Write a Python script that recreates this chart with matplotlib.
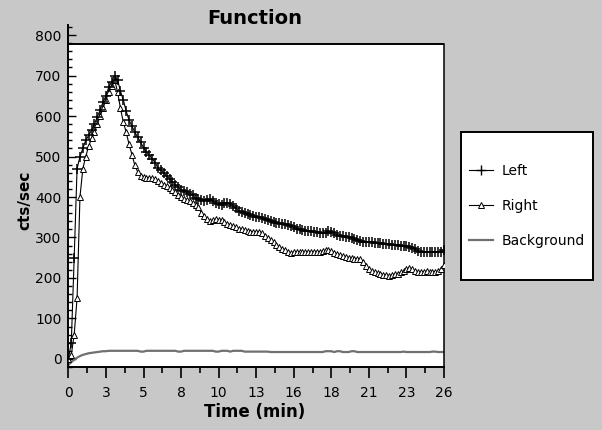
import numpy as np
import matplotlib
matplotlib.use("Agg")
import matplotlib.pyplot as plt
from matplotlib.patches import Rectangle
from matplotlib.ticker import FixedLocator, MultipleLocator

# DATA (sampled every 0.2 min, 0 .. 26 min)
time_min = np.round(np.arange(0, 26.01, 0.2), 1)

left_cps = [
    0, 40, 250, 470, 500, 520, 540, 552, 565, 580,
    598, 615, 635, 650, 672, 685, 700, 690, 662, 640,
    612, 590, 575, 560, 548, 535, 522, 512, 503, 495,
    485, 472, 466, 460, 452, 445, 438, 430, 424, 418,
    414, 412, 408, 404, 398, 394, 392, 390, 393, 396,
    390, 386, 383, 380, 385, 386, 382, 378, 372, 366,
    362, 360, 357, 355, 352, 350, 350, 348, 345, 342,
    340, 338, 337, 335, 334, 333, 331, 328, 325, 322,
    320, 318, 317, 316, 315, 314, 313, 312, 311, 312,
    315, 313, 310, 306, 304, 303, 301, 300, 298, 296,
    294, 291, 290, 289, 289, 288, 287, 287, 286, 285,
    284, 283, 282, 281, 281, 280, 280, 278, 277, 275,
    271, 267, 264, 263, 263, 264, 264, 263, 264, 265,
    268,
]

right_cps = [
    0, 10, 60, 150, 400, 470, 500, 525, 545, 560,
    580, 600, 620, 640, 660, 675, 690, 660, 620, 585,
    560, 530, 505, 478, 462, 452, 450, 448, 447, 446,
    444, 440, 435, 430, 426, 423, 418, 412, 405, 400,
    396, 393, 390, 385, 380, 376, 360, 352, 345, 340,
    342, 345, 344, 342, 338, 333, 330, 328, 326, 322,
    320, 318, 316, 314, 313, 314, 314, 310, 304, 298,
    293, 288, 282, 276, 272, 268, 263, 262, 263, 264,
    264, 263, 264, 265, 264, 264, 263, 265, 266, 268,
    269, 266, 262, 258, 256, 254, 251, 250, 249, 248,
    247, 246, 240, 230, 222, 218, 215, 212, 210, 208,
    207, 206, 207, 209, 211, 214, 216, 222, 225, 222,
    218, 215, 214, 215, 216, 215, 214, 215, 216, 222,
    232,
]

background_cps = [
    -15, -8, -2, 3, 7, 10, 12, 14, 15, 16,
    17, 18, 19, 19, 20, 20, 20, 20, 20, 20,
    20, 20, 20, 20, 20, 18, 18, 20, 20, 20,
    20, 20, 20, 20, 20, 20, 20, 20, 18, 18,
    20, 20, 20, 20, 20, 20, 20, 20, 20, 20,
    20, 18, 18, 20, 20, 20, 18, 20, 20, 20,
    20, 18, 18, 18, 18, 18, 18, 18, 18, 18,
    17, 17, 17, 17, 17, 17, 17, 17, 17, 17,
    17, 17, 17, 17, 17, 17, 17, 17, 17, 19,
    19, 19, 17, 19, 19, 17, 17, 17, 19, 19,
    17, 17, 17, 17, 17, 17, 17, 17, 17, 17,
    17, 17, 17, 17, 17, 17, 18, 17, 17, 17,
    17, 17, 17, 17, 17, 17, 18, 18, 17, 17,
    17,
]

x_ticks = [0, 2.6, 5.2, 7.8, 10.4, 13, 15.6, 18.2, 20.8, 23.4, 26]
x_labels = ["0", "3", "5", "8", "10", "13", "16", "18", "21", "23", "26"]

GRAY = "#c8c8c8"
BG_LINE = "#707070"

fig = plt.figure(figsize=(6.02, 4.30), dpi=100, facecolor=GRAY)
ax = fig.add_axes([68.4 / 602, 1 - 367 / 430, 375.6 / 602, 342 / 430])
ax.set_facecolor(GRAY)

ax.set_xlim(0, 26)
ax.set_ylim(-20, 825)

# white plotting region with its top border line
ax.axhspan(-20, 778, color="white", zorder=0)
ax.axhline(778, color="black", lw=1.4, zorder=1)

ax.plot(time_min, background_cps, color=BG_LINE, lw=1.6, zorder=2)
ax.plot(time_min, right_cps, color="black", lw=0.8, marker="^",
        markersize=4.5, markerfacecolor="white", markeredgecolor="black",
        markeredgewidth=0.7, zorder=3)
ax.plot(time_min, left_cps, color="black", lw=0.8, marker="+",
        markersize=6.5, markeredgewidth=1.1, zorder=4)

# spines
ax.spines["top"].set_visible(False)
ax.spines["right"].set_bounds(-20, 778)
for s in ("left", "bottom"):
    ax.spines[s].set_linewidth(1.4)
ax.spines["right"].set_linewidth(1.1)

# ticks
ax.xaxis.set_major_locator(FixedLocator(x_ticks))
ax.set_xticklabels(x_labels)
ax.xaxis.set_minor_locator(FixedLocator([1.3 + 2.6 * i for i in range(10)]))
ax.yaxis.set_major_locator(MultipleLocator(100))
ax.yaxis.set_minor_locator(MultipleLocator(20))
ax.tick_params(axis="x", which="major", direction="out", length=8, width=1.2,
               pad=6, labelsize=10)
ax.tick_params(axis="x", which="minor", direction="out", length=4, width=1.2)
ax.tick_params(axis="y", which="major", direction="in", length=6, width=1.0,
               pad=5, labelsize=10)
ax.tick_params(axis="y", which="minor", direction="in", length=3, width=1.0)

# texts
fig.text(255 / 602, 1 - 18 / 430, "Function", ha="center", va="center",
         fontsize=14, fontweight="bold")
fig.text(25 / 602, 1 - 200 / 430, "cts/sec", ha="center", va="center",
         rotation=90, fontsize=11, fontweight="bold")
fig.text(255 / 602, 1 - 412 / 430, "Time (min)", ha="center", va="center",
         fontsize=12, fontweight="bold")

# legend box
fig.patches.append(Rectangle((461 / 602, 1 - 280 / 430), 132 / 602, 148 / 430,
                             transform=fig.transFigure, facecolor="white",
                             edgecolor="black", lw=1.4, zorder=1))
h_left, = ax.plot([], [], color="black", lw=0.8, marker="+", markersize=7,
                  markeredgewidth=1.0)
h_right, = ax.plot([], [], color="black", lw=0.8, marker="^", markersize=4.5,
                   markerfacecolor="white", markeredgewidth=0.7)
h_bg, = ax.plot([], [], color=BG_LINE, lw=1.6)
leg = fig.legend([h_left, h_right, h_bg], ["Left", "Right", "Background"],
                 loc="center", bbox_to_anchor=(527 / 602, 1 - 206 / 430),
                 frameon=False, fontsize=10, handlelength=1.75,
                 handletextpad=0.65, labelspacing=1.5, borderpad=0,
                 markerscale=1.0)
leg.set_zorder(2)

fig.savefig("out.png", dpi=100, facecolor=GRAY)
